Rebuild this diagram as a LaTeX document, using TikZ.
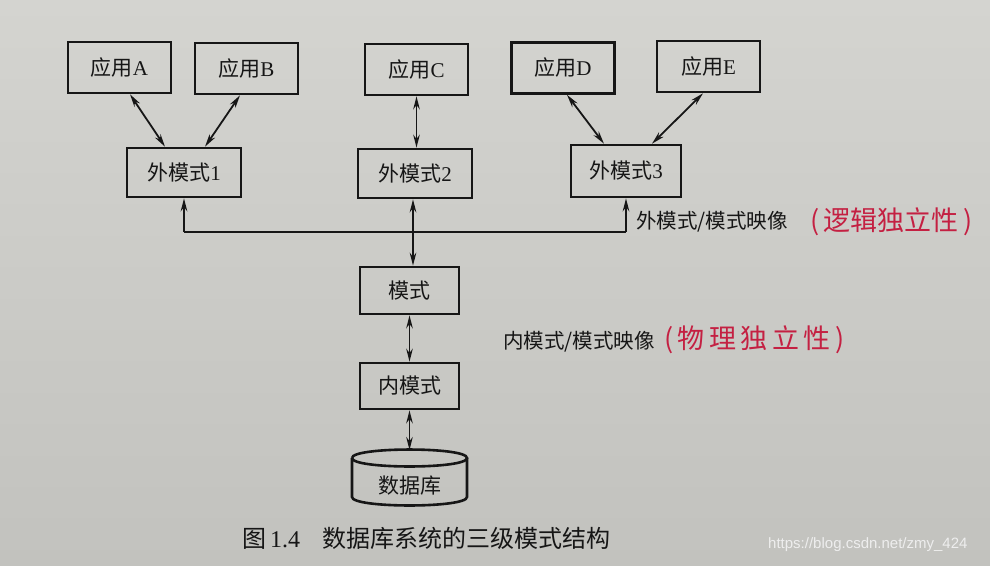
\documentclass[tikz,border=0pt]{standalone}
\usepackage{fontspec}
\setmainfont{Liberation Serif}
\newfontfamily\cjk{Noto Sans CJK SC}
\newfontfamily\wmfont{Liberation Sans}
\usetikzlibrary{arrows.meta}
\definecolor{papertop}{RGB}{212,212,208}
\definecolor{paperbot}{RGB}{194,194,190}
\definecolor{ink}{RGB}{22,22,22}
\definecolor{pen}{RGB}{196,32,66}
\definecolor{wm}{RGB}{238,238,238}
\tikzset{
  box/.style={draw=ink, line width=2.6pt, minimum width=103pt, minimum height=51pt,
    inner sep=0pt, text=ink, font=\fontsize{21}{21}\selectfont},
  link/.style={draw=ink, line width=1.8pt,
    {Stealth[length=13pt,width=6.5pt]}-{Stealth[length=13pt,width=6.5pt]}},
  uplink/.style={draw=ink, line width=1.8pt, -{Stealth[length=13pt,width=6.5pt]}},
  bus/.style={draw=ink, line width=1.8pt},
  lbl/.style={text=ink, inner sep=0pt, anchor=west, font=\fontsize{20.5}{20.5}\selectfont\cjk},
  note/.style={text=pen, inner sep=0pt, anchor=west, font=\fontsize{27}{27}\selectfont\cjk},
}
\begin{document}
\begin{tikzpicture}[x=1pt,y=-1pt]
\useasboundingbox (0,0) rectangle (990,565);
\shade[top color=papertop, bottom color=paperbot] (0,0) rectangle (990,565);

% applications
\node[box] (A) at (119.5,67.5) {{\cjk 应用}A};
\node[box] (B) at (246.5,68.5) {{\cjk 应用}B};
\node[box] (C) at (416.5,69.5) {{\cjk 应用}C};
\node[box] (D) at (563,68) {{\cjk 应用}D};
\node[box] (E) at (708.5,66.5) {{\cjk 应用}E};

% external schemas
\node[box, minimum width=114pt, minimum height=49pt] (E1) at (184,172.5) {{\cjk 外模式}1};
\node[box, minimum width=114pt, minimum height=49pt] (E2) at (415,173.5) {{\cjk 外模式}2};
\node[box, minimum width=110pt, minimum height=52pt] (E3) at (626,171) {{\cjk 外模式}3};

% schema and internal schema
\node[box, minimum width=99pt, minimum height=47pt] (M) at (409.5,290.5) {\cjk 模式};
\node[box, minimum width=99pt, minimum height=46pt] (I) at (409.5,386) {\cjk 内模式};

% database cylinder
\draw[draw=ink, line width=2.6pt]
  (352,458) .. controls (352,446.7) and (467,446.7) .. (467,458)
            .. controls (467,469.3) and (352,469.3) .. (352,458);
\draw[draw=ink, line width=2.6pt]
  (352,458) -- (352,497) .. controls (352,508.3) and (467,508.3) .. (467,497) -- (467,458);
\node[text=ink, inner sep=0pt, font=\fontsize{21}{21}\selectfont\cjk] (db) at (409.5,486) {数据库};
\coordinate (dbtop) at (409.5,450);

% connectors
\draw[link] ([xshift=10.5pt]A.south) -- ([xshift=-19pt]E1.north);
\draw[link] ([xshift=-6.5pt]B.south) -- ([xshift=21pt]E1.north);
\draw[link] (C.south) -- (C.south |- E2.north);
\draw[link] ([xshift=4pt]D.south) -- ([xshift=-22pt]E3.north);
\draw[link] ([xshift=-5.5pt]E.south) -- ([xshift=26pt]E3.north);

\coordinate (busy) at (0,232);
\draw[bus] (E1.south |- busy) -- (E3.south |- busy);
\draw[uplink] (E1.south |- busy) -- (E1.south);
\draw[uplink] (E3.south |- busy) -- (E3.south);
\draw[link] ([xshift=-2pt]E2.south) -- ([xshift=-2pt]E2.south |- M.north);
\draw[link] (M.south) -- (I.north);
\draw[link] (I.south) -- (dbtop);

% mapping labels
\node[lbl] (l1) at (636,222) {外模式/模式映像};
\node[note] (n1) at (810,222) {(\,逻辑独立性\,)};
\node[lbl] (l2) at (503,342) {内模式/模式映像};
\node[note] (n2) at (664,340) {(\,物\,理\,独\,立\,性\,)};

% caption
\node[text=ink, inner sep=0pt, anchor=west, font=\fontsize{24}{24}\selectfont] (cap) at (242,538)
  {{\cjk 图}\,1.4\hspace{22pt}{\cjk 数据库系统的三级模式结构}};

% watermark
\node[text=wm, inner sep=0pt, anchor=west, font=\fontsize{15}{15}\selectfont\wmfont] (wmk) at (768,545)
  {https://blog.csdn.net/zmy\_424};
\end{tikzpicture}
\end{document}
